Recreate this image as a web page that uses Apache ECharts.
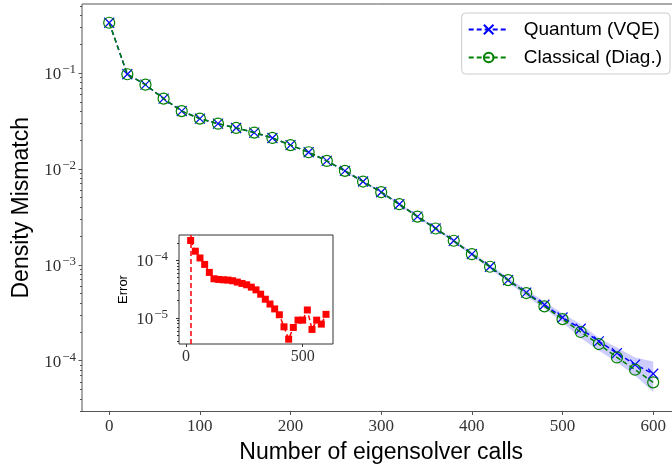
<!DOCTYPE html>
<html>
<head>
<meta charset="utf-8">
<script src="https://cdn.jsdelivr.net/npm/echarts@6/dist/echarts.min.js"></script>
<style>
  html, body { margin: 0; padding: 0; background: #fff; }
  #chart { width: 672px; height: 466px; }
</style>
</head>
<body>
<div id="chart"></div>
<script>
// eigensolver calls (x)
var calls = [0, 20, 40, 60, 80, 100, 120, 140, 160, 180, 200, 220, 240, 260, 280, 300,
  320, 340, 360, 380, 400, 420, 440, 460, 480, 500, 520, 540, 560, 580, 600];

// density mismatch, classical diagonalisation
var classical = [0.334, 0.097, 0.0755, 0.054, 0.040, 0.0334, 0.0296, 0.0267, 0.0239, 0.021,
  0.0177, 0.0149, 0.0121, 0.00953, 0.00738, 0.00571, 0.00428, 0.00318, 0.00239, 0.00178,
  0.00129, 0.000953, 0.000692, 0.000507, 0.000368, 0.000271, 0.000199, 0.000149, 0.000108,
  8.05e-5, 5.94e-5];

// density mismatch, VQE
var quantum = [0.334, 0.097, 0.0755, 0.054, 0.040, 0.0334, 0.0296, 0.0267, 0.0239, 0.021,
  0.0177, 0.0149, 0.0121, 0.00953, 0.00738, 0.00571, 0.00428, 0.00318, 0.00239, 0.00178,
  0.00129, 0.000953, 0.000692, 0.000512, 0.000383, 0.000282, 0.000215, 0.000159, 0.00012,
  9.1e-5, 7.3e-5];

// shaded spread of the VQE runs
var bandX  = [260, 280, 300, 320, 340, 360, 380, 400, 420, 440, 460, 480, 500, 520, 540, 560, 580, 600];
var bandHi = [0.0097, 0.0075, 0.0059, 0.0044, 0.00328, 0.00248, 0.00185, 0.00135, 0.00100, 0.00073,
  0.00055, 0.000415, 0.000310, 0.000240, 0.000172, 0.000137, 0.000108, 0.000098];
var bandLo = [0.0093, 0.0072, 0.0056, 0.0042, 0.00310, 0.00232, 0.00172, 0.00124, 0.00091, 0.00066,
  0.00047, 0.000350, 0.000252, 0.000172, 0.000128, 0.000096, 0.000070, 0.000047];

// inset: error between the two
var errX = calls.slice(1);
var errVals = [2.21e-4, 1.44e-4, 1.10e-4, 8.5e-5, 6.18e-5, 4.79e-5, 4.67e-5, 4.6e-5, 4.55e-5, 4.43e-5,
  4.2e-5, 3.98e-5, 3.77e-5, 3.43e-5, 3.08e-5, 2.59e-5, 2.12e-5, 1.75e-5, 1.44e-5, 1.14e-5,
  7.05e-6, 4.3e-6, 6.87e-6, 9.2e-6, 9.2e-6, 1.38e-5, 6.35e-6, 9.2e-6, 7.85e-6, 1.16e-5];

// ticks
var mainXTicks = [0, 100, 200, 300, 400, 500, 600];
var mainYTicks = [1e-4, 1e-3, 1e-2, 1e-1];
var insetXTicks = [0, 500];
var insetYTicks = [1e-5, 1e-4];

function minorTicks(lo, hi) {
  var out = [];
  for (var e = -7; e <= 0; e++) {
    for (var k = 2; k <= 9; k++) {
      var v = k * Math.pow(10, e);
      if (v >= lo && v <= hi) out.push(+v.toPrecision(3));
    }
  }
  return out;
}

var SERIF = 'Liberation Serif';
var SANS = 'Liberation Sans';
var AX = '#555';

function powLabel(v) {
  var e = Math.round(Math.log10(v));
  return '{b|10}{s|\u2212' + Math.abs(e) + '}';
}
function powRich(size, sup) {
  return {
    b: { fontFamily: SERIF, fontSize: size, color: '#333', verticalAlign: 'bottom', lineHeight: size + 3 },
    s: { fontFamily: SERIF, fontSize: sup, color: '#333', verticalAlign: 'top', lineHeight: sup, padding: [0, 0, 0, 1] }
  };
}

var yMin = 2.95e-5, yMax = 0.524;
var iyMin = 3.55e-6, iyMax = 2.75e-4;

var chart = echarts.init(document.getElementById('chart'), null, { renderer: 'canvas' });

var option = {
  animation: false,
  backgroundColor: '#fff',
  grid: [
    { left: 82, top: 4, width: 598.4, height: 407.5, show: true, borderColor: AX, borderWidth: 1,
      backgroundColor: 'transparent', outerBoundsMode: 'none', containLabel: false },
    { left: 179, top: 235, width: 154, height: 109, show: true, borderColor: '#333', borderWidth: 1,
      backgroundColor: '#fff', outerBoundsMode: 'none', containLabel: false }
  ],
  legend: {
    data: ['Quantum (VQE)', 'Classical (Diag.)'],
    orient: 'vertical',
    right: 2,
    top: 13,
    itemWidth: 40,
    itemHeight: 12,
    itemGap: 9,
    padding: [7, 8, 7, 6],
    borderColor: '#ccc',
    borderWidth: 1,
    borderRadius: 4,
    backgroundColor: 'rgba(255,255,255,0.85)',
    textStyle: { fontFamily: SANS, fontSize: 19, color: '#000', padding: [0, 0, 0, 10] }
  },
  xAxis: [
    {
      type: 'value', gridIndex: 0, min: -30, max: 630,
      axisLine: { show: false, onZero: false },
      splitLine: { show: false },
      axisTick: { customValues: mainXTicks, length: 3.5, lineStyle: { color: AX } },
      axisLabel: { customValues: mainXTicks, fontFamily: SERIF, fontSize: 17, color: '#333', margin: 7 },
      name: 'Number of eigensolver calls', nameLocation: 'middle', nameGap: 30,
      nameTextStyle: { fontFamily: SANS, fontSize: 23, color: '#000' }
    },
    {
      type: 'value', gridIndex: 1, min: -30, max: 630,
      axisLine: { show: false, onZero: false },
      splitLine: { show: false },
      axisTick: { customValues: insetXTicks, length: 3, lineStyle: { color: '#333' } },
      axisLabel: { customValues: insetXTicks, fontFamily: SERIF, fontSize: 16, color: '#333', margin: 5 }
    }
  ],
  yAxis: [
    {
      type: 'log', logBase: 10, gridIndex: 0, min: yMin, max: yMax,
      axisLine: { show: false, onZero: false },
      splitLine: { show: false },
      axisTick: { customValues: mainYTicks, length: 3.5, lineStyle: { color: AX } },
      axisLabel: { customValues: mainYTicks, formatter: powLabel, rich: powRich(17, 13), margin: 6 },
      name: 'Density Mismatch', nameLocation: 'middle', nameGap: 47,
      nameTextStyle: { fontFamily: SANS, fontSize: 23, color: '#000' }
    },
    {
      type: 'log', logBase: 10, gridIndex: 0, min: yMin, max: yMax, position: 'left',
      axisLine: { show: false, onZero: false }, splitLine: { show: false }, axisLabel: { show: false },
      axisTick: { customValues: minorTicks(yMin, yMax), length: 2, lineStyle: { color: AX } }
    },
    {
      type: 'log', logBase: 10, gridIndex: 1, min: iyMin, max: iyMax,
      axisLine: { show: false, onZero: false },
      splitLine: { show: false },
      axisTick: { customValues: insetYTicks, length: 3, lineStyle: { color: '#333' } },
      axisLabel: { customValues: insetYTicks, formatter: powLabel, rich: powRich(17, 13), margin: 11 },
      name: 'Error', nameLocation: 'middle', nameGap: 49,
      nameTextStyle: { fontFamily: SANS, fontSize: 13, color: '#000' }
    },
    {
      type: 'log', logBase: 10, gridIndex: 1, min: iyMin, max: iyMax, position: 'left',
      axisLine: { show: false, onZero: false }, splitLine: { show: false }, axisLabel: { show: false },
      axisTick: { customValues: minorTicks(iyMin, iyMax), length: 2, lineStyle: { color: '#333' } }
    }
  ],
  series: [
    {
      type: 'custom', name: 'spread', xAxisIndex: 0, yAxisIndex: 0, silent: true, z: 1,
      data: bandX.map(function (x, i) { return [x, bandHi[i], bandLo[i]]; }),
      encode: { x: 0, y: 1 },
      renderItem: function (params, api) {
        if (params.dataIndex !== 0) return null;
        var pts = [];
        for (var i = 0; i < bandX.length; i++) pts.push(api.coord([bandX[i], bandHi[i]]));
        for (var j = bandX.length - 1; j >= 0; j--) pts.push(api.coord([bandX[j], bandLo[j]]));
        return { type: 'polygon', shape: { points: pts }, style: { fill: 'rgba(0,0,255,0.2)', stroke: 'none' } };
      }
    },
    {
      type: 'line', name: 'Quantum (VQE)', xAxisIndex: 0, yAxisIndex: 0, z: 3,
      data: calls.map(function (x, i) { return [x, quantum[i]]; }),
      symbol: 'path://M0,0L10,10M10,0L0,10', symbolSize: 10,
      itemStyle: { color: 'none', borderColor: '#0000ff', borderWidth: 1.2 },
      lineStyle: { color: '#0000ff', width: 1.5, type: [5, 3] }
    },
    {
      type: 'line', name: 'Classical (Diag.)', xAxisIndex: 0, yAxisIndex: 0, z: 4,
      data: calls.map(function (x, i) { return [x, classical[i]]; }),
      symbol: 'circle', symbolSize: 11,
      itemStyle: { color: 'none', borderColor: '#008000', borderWidth: 1.2 },
      lineStyle: { color: '#008000', width: 1.5, type: [5, 3] }
    },
    {
      type: 'line', name: 'Error', xAxisIndex: 1, yAxisIndex: 2, z: 5,
      data: errX.map(function (x, i) { return [x, errVals[i]]; }),
      symbol: 'rect', symbolSize: 7,
      itemStyle: { color: '#ff0000' },
      lineStyle: { color: '#ff0000', width: 1.5, type: [5, 3] },
      markLine: {
        silent: true, symbol: ['none', 'none'], label: { show: false },
        lineStyle: { color: '#ff0000', width: 1.5, type: [5, 3] },
        data: [{ xAxis: 20 }]
      }
    }
  ]
};

chart.setOption(option);
</script>
</body>
</html>
